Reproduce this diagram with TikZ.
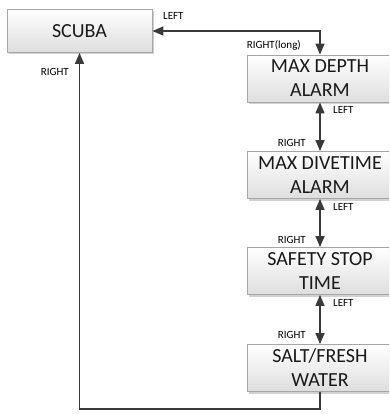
\documentclass[tikz,border=0pt]{standalone}
\usepackage{fontspec}
\setmainfont{Carlito}
\usetikzlibrary{arrows.meta,shadows}
\definecolor{linec}{HTML}{3A3A3A}
\definecolor{boxborder}{HTML}{A6A6A6}
\tikzset{
  menubox/.style={draw=boxborder, line width=0.8pt, top color=white, bottom color=black!13,
    minimum width=146pt, minimum height=47pt, inner sep=0pt, align=center,
    font=\fontsize{20}{24}\selectfont, text=black!90,
    drop shadow={shadow xshift=2pt, shadow yshift=-2pt, fill=black!35, opacity=0.5}},
  conn/.style={draw=linec, line width=1.5pt, -{Triangle[length=11pt,width=9pt]}},
  dconn/.style={draw=linec, line width=1.5pt, {Triangle[length=11pt,width=9pt]}-{Triangle[length=11pt,width=9pt]}},
  lbl/.style={font=\fontsize{11}{13}\selectfont, inner sep=0pt}
}
\begin{document}
\begin{tikzpicture}[x=1pt,y=1pt]
\useasboundingbox (0,0) rectangle (389,-414);
\clip (0,0) rectangle (389,-414);
\node[menubox, minimum width=145pt, minimum height=43pt] (scuba) at (79.5,-31) {SCUBA};
\node[menubox] (mda) at (320,-78.5) {MAX DEPTH\\ALARM};
\node[menubox] (mdt) at (320,-175) {MAX DIVETIME\\ALARM};
\node[menubox] (sst) at (320,-271) {SAFETY STOP\\TIME};
\node[menubox] (sfw) at (320,-368) {SALT/FRESH\\WATER};

\draw[dconn] (scuba.east) -| (mda.north);
\draw[dconn] (mda.south) -- (mdt.north);
\draw[dconn] (mdt.south) -- (sst.north);
\draw[dconn] (sst.south) -- (sfw.north);
\coordinate (corner) at (320,-409);
\draw[conn] (sfw.south) -- (corner) -| (scuba.south);

\node[lbl, anchor=west] (l0) at (163,-16) {LEFT};
\node[lbl, anchor=east] (r0) at (301,-45) {RIGHT(long)};
\node[lbl, anchor=west] (l1) at (333,-110) {LEFT};
\node[lbl, anchor=east] (r1) at (306,-143) {RIGHT};
\node[lbl, anchor=west] (l2) at (333,-207) {LEFT};
\node[lbl, anchor=east] (r2) at (306,-240) {RIGHT};
\node[lbl, anchor=west] (l3) at (333,-303) {LEFT};
\node[lbl, anchor=east] (r3) at (306,-335) {RIGHT};
\node[lbl, anchor=east] (rs) at (69,-72) {RIGHT};
\end{tikzpicture}
\end{document}
